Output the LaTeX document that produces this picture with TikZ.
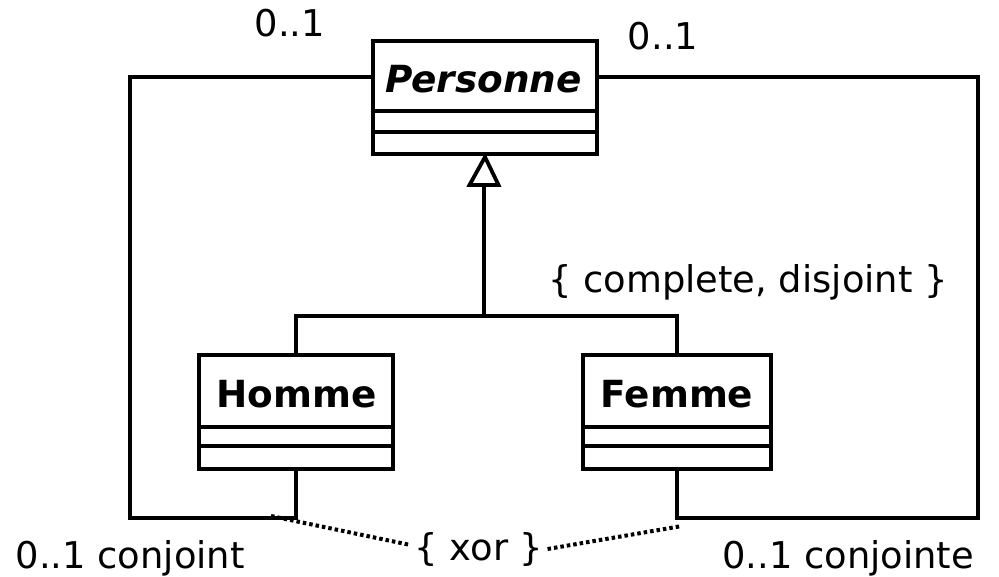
\documentclass[tikz,border=0pt]{standalone}
\usepackage{fontspec}
\setmainfont{DejaVu Sans}
\usetikzlibrary{calc}
\begin{document}
\begin{tikzpicture}[x=1bp,y=-1bp,
  classbox/.style={draw,line width=4bp,fill=white,outer sep=0pt,inner sep=0pt},
  cname/.style={anchor=base,inner sep=0pt,font=\fontsize{37.5}{40}\selectfont\bfseries},
  lbl/.style={anchor=base,inner sep=0pt,font=\fontsize{37}{40}\selectfont},
  conn/.style={line width=3.8bp},
  dotline/.style={line width=4bp,dash pattern=on 3.5bp off 3bp},
  gen/.style={line width=3.8bp,fill=white,line join=miter}]
\useasboundingbox (0,0) rectangle (999,577);

% classes
\node[classbox,minimum width=224bp,minimum height=113bp] (P) at (485,97.5) {};
\node[classbox,minimum width=194bp,minimum height=114bp] (H) at (296,412) {};
\node[classbox,minimum width=188bp,minimum height=114bp] (F) at (677,412) {};

\draw[line width=4bp] ($(P.north west)+(0,70)$) -- ($(P.north east)+(0,70)$);
\draw[line width=4bp] ($(P.north west)+(0,91)$) -- ($(P.north east)+(0,91)$);
\draw[line width=4bp] ($(H.north west)+(0,72)$) -- ($(H.north east)+(0,72)$);
\draw[line width=4bp] ($(H.north west)+(0,91)$) -- ($(H.north east)+(0,91)$);
\draw[line width=4bp] ($(F.north west)+(0,72)$) -- ($(F.north east)+(0,72)$);
\draw[line width=4bp] ($(F.north west)+(0,91)$) -- ($(F.north east)+(0,91)$);

\node[cname] (Pn) at (483.5,93) {\itshape Personne};
\node[cname] (Hn) at (296.5,407) {Homme};
\node[cname] (Fn) at (677,407) {Femme};

% generalization
\coordinate (bar) at (484,316);
\coordinate (tb) at (484,185);
\draw[conn] (H.north) |- (bar) -| (F.north);
\draw[conn] (bar) -- (tb);
\draw[gen] (tb) ++(-14.5,0) -- ($(P.south)+(0,3)$) -- ($(tb)+(14.5,0)$) -- cycle;

% associations
\coordinate (lt) at (130,77);
\coordinate (lb) at (130,518);
\coordinate (rt) at (978,77);
\coordinate (rb) at (978,518);
\draw[conn,line join=miter] (P.west |- lt) -- (lt) -- (lb) -| (H.south);
\draw[conn,line join=miter] (P.east |- rt) -- (rt) -- (rb) -| (F.south);

% labels
\node[lbl] (m1) at (290,37) {0..1};
\node[lbl] (m2) at (663,50) {0..1};
\node[lbl] (cd) at (748,293) {\{ complete, disjoint \}};
\node[lbl,anchor=base west] (cj) at (15.5,568) {0..1 conjoint};
\node[lbl,anchor=base west] (cje) at (722,568) {0..1 conjointe};
\node[lbl,inner sep=4bp] (X) at (479,560) {\{ xor \}};

% xor constraint
\coordinate (dl) at (271,516);
\coordinate (dr) at (682,526);
\draw[dotline] (dl) -- ($(X.west)+(0,-4)$);
\draw[dotline] (X.east) -- (dr);
\end{tikzpicture}
\end{document}
